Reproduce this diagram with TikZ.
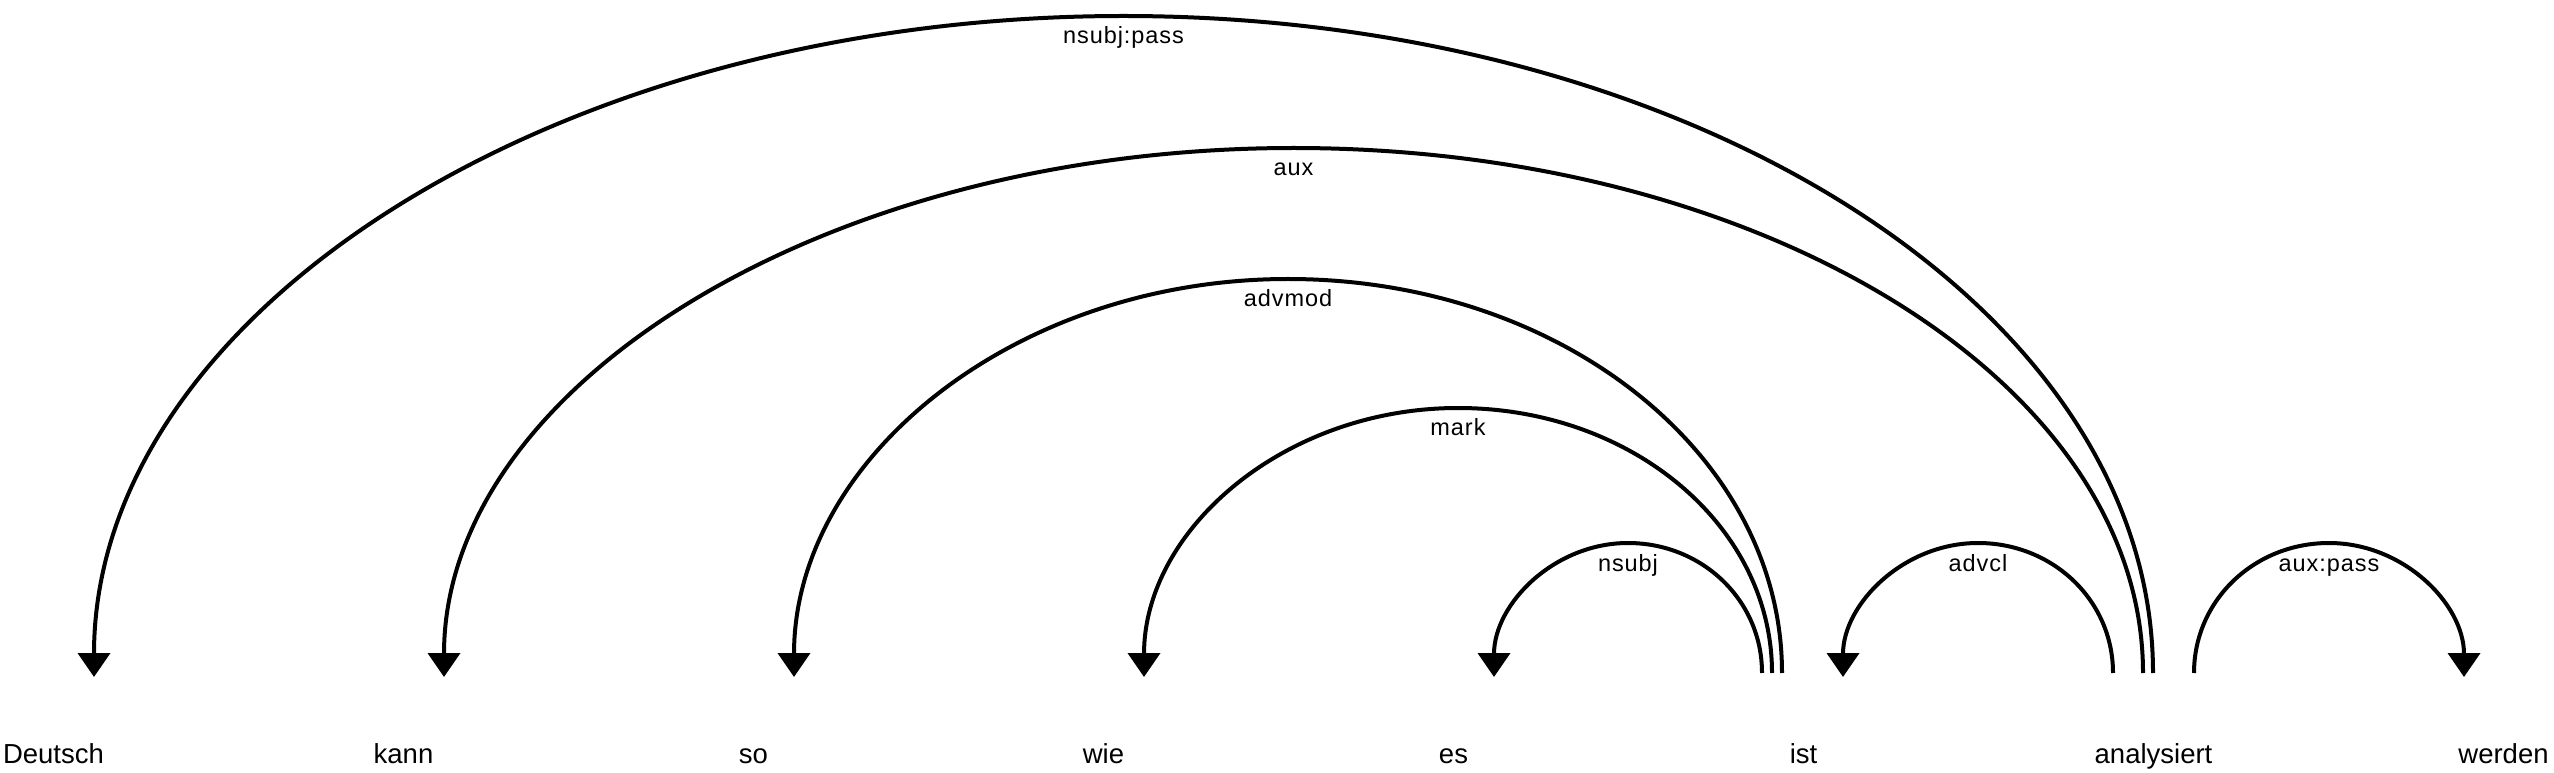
\documentclass[tikz,border=0pt]{standalone}
\usepackage{fontspec}
\setmainfont{Liberation Sans}
\usetikzlibrary{arrows.meta}
% #1 name, #2 x start, #3 x end, #4 apex y, #5 label
\newcommand\deparc[5]{%
  \pgfmathsetmacro\dxc{(#2+#3)/2}%
  \pgfmathsetmacro\dkw{0.5523*(#3-#2)/2}%
  \pgfmathsetmacro\dkh{0.5523*(#4-97)}%
  \pgfmathsetmacro\dly{#4-28}%
  \coordinate (#1s) at (#2,99);
  \coordinate (#1t) at (\dxc,#4);
  \coordinate (#1e) at (#3,95);
  \draw[dep] (#1s) .. controls +(0,\dkh) and +(-\dkw,0) .. (#1t)
                   .. controls +(\dkw,0) and +(0,\dkh) .. (#1e);
  \node[lab] (#1l) at (\dxc,\dly) {#5};
}
\begin{document}
\begin{tikzpicture}[x=1pt,y=1pt,
  dep/.style={line width=4pt, -{Triangle[length=24pt,width=32pt]}},
  word/.style={anchor=base, inner sep=0pt, font=\fontsize{27.5}{30}\selectfont},
  lab/.style={anchor=base, inner sep=0pt, font=\fontsize{23.5}{26}\selectfont\addfontfeature{LetterSpace=4}}]
\useasboundingbox (0,0) rectangle (2554,772);
\node[word] (w1) at (53.5,9) {Deutsch};
\node[word] (w2) at (403.5,9) {kann};
\node[word] (w3) at (753.5,9) {so};
\node[word] (w4) at (1103.5,9) {wie};
\node[word] (w5) at (1453.5,9) {es};
\node[word] (w6) at (1803.5,9) {ist};
\node[word] (w7) at (2153.5,9) {analysiert};
\node[word] (w8) at (2503.5,9) {werden};
\deparc{a1}{2153}{94}{756}{nsubj:pass}
\deparc{a2}{2143}{444}{624}{aux}
\deparc{a3}{1782}{794}{493}{advmod}
\deparc{a4}{1772}{1144}{364}{mark}
\deparc{a5}{1762}{1494}{229}{nsubj}
\deparc{a6}{2113}{1843}{229}{advcl}
\deparc{a7}{2194}{2464}{229}{aux:pass}
\end{tikzpicture}
\end{document}
